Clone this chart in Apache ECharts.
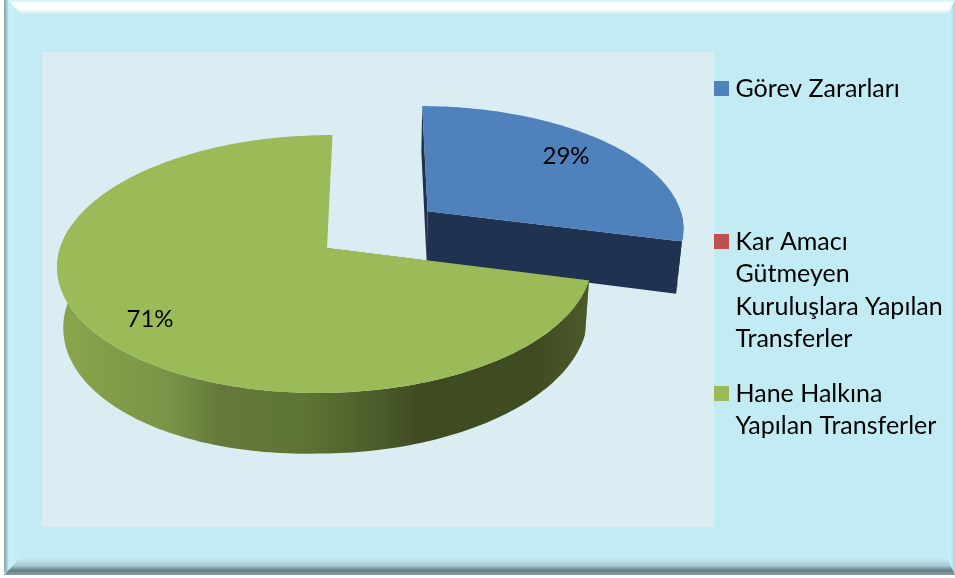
<!DOCTYPE html>
<html><head><meta charset="utf-8">
<style>html,body{margin:0;padding:0;background:#fff}#c{width:955px;height:578px}</style>
<script src="https://cdn.jsdelivr.net/npm/echarts@6/dist/echarts.min.js"></script></head>
<body><div id="c"></div>
<script>
const categories = ['Görev Zararları', 'Kar Amacı Gütmeyen Kuruluşlara Yapılan Transferler', 'Hane Halkına Yapılan Transferler'];
const wrapped = ['Görev Zararları', 'Kar Amacı\nGütmeyen\nKuruluşlara Yapılan\nTransferler', 'Hane Halkına\nYapılan Transferler'];
const values = [29, 0, 71];
const colors = ['#4f81bd', '#c0504d', '#9bbb59'];

const chart = echarts.init(document.getElementById('c'), null, {renderer:'canvas'});
const W = 955, H = 578;
// perspective model of the disc
const VX = 377, CX = 327, CY = 248, A = 265, B = 127, K = 0.124, M = 0.006, DEPTH = 53, TAPER = 0.019, EXPLODE = 0.49, LEFT_DEPTH = 0.12;
const total = values.reduce((a, b) => a + b, 0);
function proj(u, v, low) {
  const s = 1 / (1 + K * v + M * u);
  let x = VX + (A * u + (CX - VX)) * s, y = CY - B * v * s;
  if (low) { x = VX + (x - VX) * (1 - TAPER); y += DEPTH * s * (1 + LEFT_DEPTH * Math.max(0, -u)); }
  return [x, y];
}
function sliceRange(i) {
  let acc = 0;
  for (let k = 0; k < i; k++) acc += values[k];
  return [acc / total * 2 * Math.PI, (acc + values[i]) / total * 2 * Math.PI];
}
function arc(a0, a1, ou, ov, low) {
  const pts = [], n = Math.max(2, Math.ceil(Math.abs(a1 - a0) / 0.02));
  for (let j = 0; j <= n; j++) {
    const t = a0 + (a1 - a0) * j / n;
    pts.push(proj(ou + Math.sin(t), ov + Math.cos(t), low));
  }
  return pts;
}
function sideFill(kind) {
  if (kind === 2) return new echarts.graphic.LinearGradient(0, 0, 1, 0, [
    {offset: 0, color: '#8aa64c'}, {offset: .21, color: '#7a9447'}, {offset: .31, color: '#64793a'},
    {offset: .46, color: '#5f7534'}, {offset: .6, color: '#4c5d2a'}, {offset: .68, color: '#3f4c22'}, {offset: .9, color: '#3f4c22'}, {offset: 1, color: '#4b5a2a'}]);
  return '#1f3350';
}
function render(i) {
  return function (params, api) {
    if (!values[i]) return {type: 'group', children: []};
    const [a0, a1] = sliceRange(i);
    const mid = (a0 + a1) / 2, ex = i === 0 ? EXPLODE : 0;
    const ou = ex * Math.sin(mid), ov = ex * Math.cos(mid);
    const apex = proj(ou, ov), apexL = proj(ou, ov, true);
    const rim = arc(a0, a1, ou, ov), children = [];
    const dark = i === 2 ? '#6f8a3d' : '#1f3350';
    const wall = (pts, fill) => children.push({type: 'polygon', shape: {points: pts}, style: {fill: fill}});
    // start wall
    wall([rim[0], apex, apexL, proj(ou + Math.sin(a0), ov + Math.cos(a0), true)], dark);
    if (i === 0) wall([rim[rim.length - 1], apex, apexL, proj(ou + Math.sin(a1), ov + Math.cos(a1), true)], dark);
    // outer wall (front half only)
    const fa0 = Math.max(a0, Math.PI / 2), fa1 = Math.min(a1, Math.PI * 1.55);
    if (fa1 > fa0) {
      const up = arc(fa0, fa1, ou, ov), lo = arc(fa0, fa1, ou, ov, true).reverse();
      wall(up.concat(lo), sideFill(i));
    }
    // top face
    children.push({type: 'polygon', shape: {points: [apex].concat(rim)}, style: {fill: colors[i]}});
    return {type: 'group', children};
  };
}
const lineH = 32.5;
const iconCentre = [88.5, 241.5, 393.5];
const legends = categories.map((c, i) => {
  const lines = wrapped[i].split('\n').length;
  // blank lines above the block keep the marker beside the first line
  const text = '\n'.repeat(lines - 1) + wrapped[i];
  return {
    data: [c], orient: 'vertical', left: 714, top: iconCentre[i] - (2 * lines - 1) * lineH / 2,
    icon: 'path://M0 0H15V15H0Z', itemWidth: 18, itemHeight: 15, itemGap: 0, padding: 0, selectedMode: false,
    formatter: () => text,
    textStyle: {fontFamily: 'Lato', fontSize: 25, color: '#000', lineHeight: lineH}
  };
});
const series = categories.map((c, i) => ({
  type: 'custom', name: c, coordinateSystem: 'none', silent: true, animation: false,
  data: [values[i]], itemStyle: {color: colors[i]}, renderItem: render(i), z: 2 + i
}));
const frame = [
  {type: 'rect', shape: {x: 0, y: 0, width: W, height: 575}, style: {fill: '#c2ebf3'}, z: -10},
  {type: 'rect', shape: {x: 946, y: 0, width: 9, height: 575}, style: {fill: new echarts.graphic.LinearGradient(0, 0, 1, 0, [
    {offset: 0, color: '#c2ebf3'}, {offset: .5, color: '#c6eef7'}, {offset: 1, color: '#a6d3dc'}])}, z: -9},
  {type: 'rect', shape: {x: 4, y: 0, width: 16, height: 572}, style: {fill: new echarts.graphic.LinearGradient(0, 0, 1, 0, [
    {offset: 0, color: '#8a9a9e'}, {offset: .15, color: '#9fc4cc'}, {offset: .3, color: '#c8f2fb'}, {offset: 1, color: '#c2ebf3'}])}, z: -9},
  {type: 'rect', shape: {x: 0, y: 0, width: 4, height: 578}, style: {fill: '#fff'}, z: -8},
  {type: 'polygon', shape: {points: [[8, 0], [W, 0], [W - 8, 15], [22, 15]]}, style: {fill: new echarts.graphic.LinearGradient(0, 0, 0, 1, [
    {offset: 0, color: '#cdf2f8'}, {offset: .2, color: '#ffffff'}, {offset: .62, color: '#fbfefe'}, {offset: 1, color: '#c2ebf3'}])}, z: -7},
  {type: 'polygon', shape: {points: [[4, 575], [W, 575], [W - 8, 558], [20, 558]]}, style: {fill: new echarts.graphic.LinearGradient(0, 0, 0, 1, [
    {offset: 0, color: '#c2ebf3'}, {offset: .45, color: '#a9cbd2'}, {offset: .72, color: '#5f7f87'}, {offset: 1, color: '#8c9a9d'}])}, z: -7},
  {type: 'rect', shape: {x: 42, y: 52, width: 672, height: 475}, style: {fill: '#daedf3'}, z: -6},
  {type: 'text', style: {text: '29%', x: 566, y: 156, align: 'center', verticalAlign: 'middle', fontFamily: 'Lato', fontSize: 24, fill: '#000'}, z: 20},
  {type: 'text', style: {text: '71%', x: 150, y: 319, align: 'center', verticalAlign: 'middle', fontFamily: 'Lato', fontSize: 24, fill: '#000'}, z: 20}
];
chart.setOption({animation: false, legend: legends, series, graphic: {elements: frame}});
</script></body></html>
